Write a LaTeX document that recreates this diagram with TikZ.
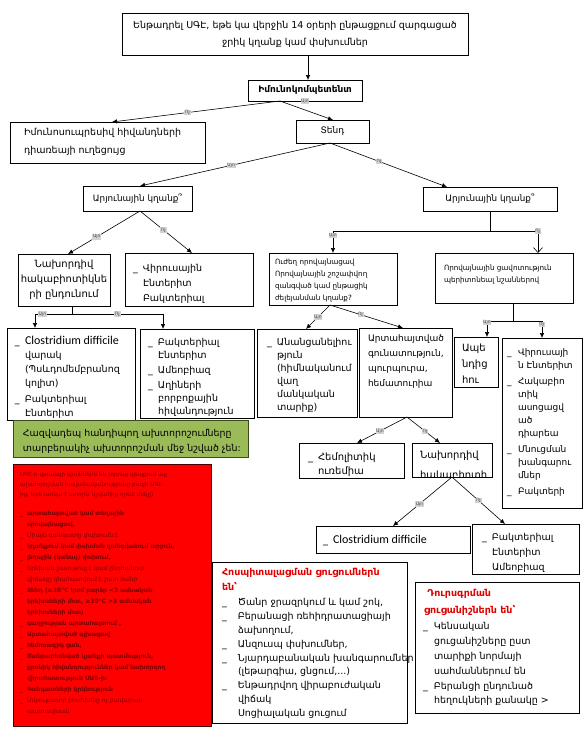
\documentclass[tikz,border=0pt]{standalone}
\usepackage{fontspec}
\setmainfont{DejaVu Sans}
\newfontfamily\lat{Carlito}
\usetikzlibrary{arrows.meta,calc}
\definecolor{gfill}{HTML}{9BBB59}
\definecolor{gline}{HTML}{3A4A1E}
\definecolor{rtext}{HTML}{7A0000}
\definecolor{hred}{HTML}{E00000}
\newcommand\fs[2]{\fontsize{#1}{#2}\selectfont}
\newcommand\Bu[1][10pt]{\makebox[#1][l]{\_}}
\newcommand\Ind[1][10pt]{\hspace*{#1}}
\tikzset{
 box/.style={draw=black, line width=0.7pt, fill=white, inner sep=2pt, outer sep=0pt, anchor=north west},
 tx/.style={inner sep=0pt, outer sep=0pt, anchor=north west, align=left},
 arr/.style={-{Latex[length=5pt,width=4.5pt]}, line width=0.6pt},
 barb/.style={-{Straight Barb[length=5pt,width=9pt]}, line width=0.6pt},
 ln/.style={line width=0.6pt},
 lb/.style={fill=gray!35, text=black!70, inner sep=0.6pt, font=\fs{4.5}{5}},
}
\begin{document}
\begin{tikzpicture}[x=1pt,y=-1pt]
\fill[white] (0,0) rectangle (586,734);
\useasboundingbox (0,0) rectangle (586,734);

% ---------- boxes ----------
\node[box,minimum width=346pt,minimum height=42pt,align=center,font=\fs{9.5}{17}] (T) at (122,13) {Ենթադրել ՍԳԷ, եթե կա վերջին 14 օրերի  ընթացքում զարգացած\\ջրիկ կղանք կամ փսխումներ};
\node[box,minimum width=114pt,minimum height=21pt,font=\bfseries\fs{9}{11}] (IC) at (248,80) {Իմունոկոմպետենտ};
\node[box,minimum width=195pt,minimum height=41pt] (IS) at (10,122) {};
\node[tx,font=\fs{9.5}{18}] (ISt) at (24,122.4) {\strut Իմունոսուպրեսիվ  հիվանդների\\դիառեայի ուղեցույց};
\node[box,minimum width=73pt,minimum height=23pt,font=\fs{9}{11}] (TD) at (296,120) {Տենդ};
\node[box,minimum width=109pt,minimum height=25pt,font=\fs{8.8}{11}] (AL) at (83,186) {Արյունային կղանք՞};
\node[box,minimum width=134pt,minimum height=24pt,font=\fs{8.8}{11}] (AR) at (423,187) {Արյունային կղանք՞};

\node[box,minimum width=92pt,minimum height=52pt,align=center,font=\fs{10}{15}] (N1) at (18,254) {Նախորդիվ\\հակաբիոտիկնե\\րի ընդունում};
\node[box,minimum width=128pt,minimum height=53pt] (V1) at (125,253) {};
\node[tx,font=\fs{9.5}{15}] (V1t) at (133,260.5) {\strut\Bu Վիրուսային\\\Ind Էնտերիտ\\\Ind Բակտերիալ};

\node[box,minimum width=128pt,minimum height=92pt] (C1) at (7,328) {};
\node[tx,font=\fs{9.5}{13.7}] (C1t) at (15,335.4) {\strut\Bu{\lat\fs{12}{13.7}Clostridium difficile}\\\Ind վարակ\\\Ind (Պսևդոմեմբրանոզ\\\Ind կոլիտ)\\[3pt]\Bu Բակտերիալ\\\Ind Էնտերիտ};
\node[box,minimum width=114pt,minimum height=89pt] (B1) at (140,329) {};
\node[tx,font=\fs{9.5}{13}] (B1t) at (148,335.9) {\strut\Bu Բակտերիալ\\\Ind Էնտերիտ\\[2pt]\Bu Ամեոբիազ\\[2pt]\Bu Աղիների\\\Ind բորբոքային\\\Ind հիվանդություն};

\node[box,fill=gfill,draw=gline,minimum width=235pt,minimum height=37pt] (G) at (13,420) {};
\node[tx,font=\fs{9.4}{15}] (Gt) at (23,425.5) {\strut Հազվադեպ հանդիպող ախտորոշումները\\տարբերակիչ ախտորոշման մեջ նշված չեն:};

\node[box,fill=red,draw={rgb,255:red,70;green,0;blue,0},minimum width=198pt,minimum height=262pt] (R) at (13,464) {};
\node[tx,text=rtext,font=\fs{5.7}{10}] (Rh) at (20,469) {\strut ՍԳԷ-ի վտանգի նշաններն են (որոնց դեպքում այլ\\ախտորոշման հավանականությունը բացի ՍԳԷ-\\ից, եթե առկա է ստորև նշվածից որևէ մեկը)};
\node[tx,text=rtext,font=\fs{6}{11}] (Rb) at (20,507.3) {\strut\Bu[7pt]\textbf{արտահայտված կամ տեղային}\\\Ind[7pt]\textbf{որովայնացավ,}\\\Bu[7pt]Միայն գանգատը փսխումն է\\\Bu[7pt]\textbf{կղանքում կամ փսխման զանգվածում արյուն,}\\\Bu[7pt]\textbf{լեղային (կանաչ) փսխում,}\\\Bu[7pt]Երեխան շատ թույլ է կամ ընդհանուր\\\Ind[7pt]վիճակը գնահատվում է շատ ծանր\\\Bu[7pt]\textbf{Տենդ (≥38°C կամ բարձր <3 ամսական}\\\Ind[7pt]\textbf{երեխաների մոտ, ≥39°C >3 ամսական}\\\Ind[7pt]\textbf{երեխաների մոտ)}\\\Bu[7pt]\textbf{գաղջության արտահայտում ,}\\\Bu[7pt]\textbf{Արտահայտված գլխացավ}\\\Bu[7pt]\textbf{հեմոռագիկ ցան,}\\\Bu[7pt]\textbf{Ծանրաբեռնված կյանքի պատմություն,}\\\Ind[7pt]\textbf{քրոնիկ  հիվանդություններ կամ նախորդող}\\\Ind[7pt]\textbf{վիրահատություն ՍԱՏ-ի:}\\\Bu[7pt]\textbf{Գանգատների կրկնություն}\\\Bu[7pt]Ամբուլատոր բուժմանը ոչ բավարար\\\Ind[7pt]պատասխան};

\node[box,minimum width=128pt,minimum height=52pt] (UZ) at (269,253) {};
\node[tx,font=\fs{7.2}{12}] (UZt) at (275,255.6) {\strut Ուժեղ որովայնացավ\\Որովայնային շոշափվող\\զանգված կամ ընթացիկ\\ժելեյանման կղանք?};
\node[box,minimum width=138pt,minimum height=50pt] (OR) at (435,253) {};
\node[tx,font=\fs{7.2}{12}] (ORt) at (444,261.6) {\strut Որովայնային ցավոտություն\\պերիտոնեալ նշաններով};

\node[box,minimum width=100pt,minimum height=88pt] (AN) at (257,329) {};
\node[tx,font=\fs{9.5}{13}] (ANt) at (267,335.9) {\strut\Bu Անանցանելիու\\\Ind թյուն\\\Ind (հիմնականում\\\Ind վաղ\\\Ind մանկական\\\Ind տարիք)};
\node[box,minimum width=93pt,minimum height=89pt] (AT) at (359,328) {};
\node[tx,font=\fs{9}{15}] (ATt) at (368,330.5) {\strut Արտահայտված\\գունատություն,\\պուրպուրա,\\հեմատուրիա};
\node[box,minimum width=44pt,minimum height=50pt] (AP) at (454,337) {};
\node[tx,font=\fs{10}{16}] (APt) at (462,339.8) {\strut Ապե\\նդից\\հու};
\node[box,minimum width=80pt,minimum height=170pt] (V2) at (502,338) {};
\node[tx,font=\fs{9}{13}] (V2t) at (507,345.9) {\strut\Bu[11pt]Վիրուսայի\\\Ind[11pt]ն Էնտերիտ\\[3pt]\Bu[11pt]Հակաբիո\\\Ind[11pt]տիկ\\\Ind[11pt]ասոցացվ\\\Ind[11pt]ած\\\Ind[11pt]դիարեա\\[3pt]\Bu[11pt]Մնուցման\\\Ind[11pt]խանգարու\\\Ind[11pt]մներ\\[3pt]\Bu[11pt]Բակտերի};

\node[box,minimum width=105pt,minimum height=35pt] (HE) at (299,443) {};
\node[tx,font=\fs{10}{14}] (HEt) at (308,450.2) {\strut\Bu Հեմոլիտիկ\\\Ind ուռեմիա};
\node[box,minimum width=80pt,minimum height=34pt] (N2) at (412,443) {};
\begin{scope}
\clip (412,443) rectangle (492,477);
\node[tx,font=\fs{10}{20}] (N2t) at (420,444) {\strut Նախորդիվ\\հակաբիոտի};
\end{scope}
\node[box,minimum width=154pt,minimum height=27pt] (C2) at (316,526) {};
\node[tx,font=\fs{10}{14}] (C2t) at (323,533.2) {\strut\Bu{\lat\fs{12}{14}Clostridium difficile}};
\node[box,minimum width=107pt,minimum height=50pt] (B2) at (472,524) {};
\node[tx,font=\fs{9.5}{15}] (B2t) at (482,529.5) {\strut\Bu Բակտերիալ\\\Ind Էնտերիտ\\\Ind Ամեոբիազ};

\node[box,minimum width=195pt,minimum height=161pt] (H) at (212,562) {};
\node[tx,text=hred,font=\bfseries\fs{9.5}{15}] (Hh) at (222,564.5) {\strut Հոսպիտալացման ցուցումներն\\են՝};
\node[tx,font=\fs{9.5}{13.8}] (Hb) at (222,596.3) {\strut\Bu[16pt]Ծանր ջրազրկում և կամ շոկ,\\\Bu[16pt]Բերանացի ռեհիդրատացիայի\\\Ind[16pt]ձախողում,\\\Bu[16pt]Անզուսպ փսխումներ,\\\Bu[16pt]Նյարդաբանական խանգարումներ\\\Ind[16pt](լեթարգիա, ցնցում,...)\\\Bu[16pt]Ենթադրվող վիրաբուժական\\\Ind[16pt]վիճակ\\\Ind[16pt]Սոցիալական ցուցում};

\node[box,minimum width=164pt,minimum height=131pt] (D) at (415,582) {};
\node[tx,text=hred,font=\bfseries\fs{9.5}{17}] (Dh) at (424,584.1) {\strut\ Դուրսգրման\\ցուցանիշներն  են՝};
\node[tx,font=\fs{9.5}{14.8}] (Db) at (423,619.6) {\strut\Bu[11pt]Կենսական\\\Ind[11pt]ցուցանիշները ըստ\\\Ind[11pt]տարիքի նորմայի\\\Ind[11pt]սահմաններում են\\\Bu[11pt]Բերանցի ընդունած\\\Ind[11pt]հեղուկների  քանակը >};

% ---------- connectors ----------
\draw[arr] ($(T.south west)+(186,0)$) -- ($(IC.north west)+(60,0)$);
\node[lb] (lA) at (305,101) {Այո};
\draw[arr] ($(IC.south west)+(32,0)$) -- node[lb,pos=0.55] (lB) {Ոչ} ($(IS.north west)+(102,0)$);
\draw[arr] ($(IC.south west)+(32,0)$) -- ($(TD.north west)+(37,0)$);
\draw[arr] ($(TD.south west)+(34,0)$) -- node[lb,pos=0.52] (lC) {Այո} ($(AL.north west)+(57,0)$);
\draw[arr] ($(TD.south west)+(34,0)$) -- node[lb,pos=0.42] (lD) {Ոչ} ($(AR.north west)+(24,0)$);
\draw[arr] ($(AL.south west)+(57,0)$) -- node[lb,pos=0.6] (lE) {Այո} ($(N1.north west)+(50,0)$);
\draw[arr] ($(AL.south west)+(57,0)$) -- node[lb,pos=0.45] (lF) {Ոչ} ($(V1.north west)+(67,0)$);

\coordinate (j1) at (72,314);
\draw[ln] ($(N1.south west)+(54,0)$) -- (j1);
\draw[arr] (j1) -| node[lb,pos=0.4] (lG) {Այո} ($(C1.north west)+(28,0)$);
\draw[arr] (j1) -| node[lb,pos=0.25] (lH) {Ոչ} ($(B1.north west)+(23,0)$);

\coordinate (j2) at (490,231);
\draw[ln] ($(AR.south west)+(67,0)$) -- (j2);
\draw[arr] (j2) -| node[lb,pos=0.6] (lI) {Այո} ($(UZ.north west)+(64,0)$);
\draw[barb] (j2) -| node[lb,pos=0.5] (lJ) {Ոչ} ($(OR.north west)+(103,0)$);

\draw[arr] ($(UZ.south west)+(61,0)$) -- node[lb,pos=0.5] (lK) {Այո} ($(AN.north west)+(49,0)$);
\draw[arr] ($(UZ.south west)+(61,0)$) -- node[lb,pos=0.42] (lL) {Ոչ} ($(AT.north west)+(44,0)$);

\coordinate (j3) at (513,321);
\draw[ln] ($(OR.south west)+(78,0)$) -- (j3);
\draw[arr] (j3) -| node[lb,pos=0.55] (lM) {Այո} ($(AP.north west)+(33,0)$);
\draw[arr] (j3) -| node[lb,pos=0.6] (lN) {Ոչ} ($(V2.north west)+(40,0)$);

\draw[arr] ($(AT.south west)+(48,0)$) -- node[lb,pos=0.54] (lO) {Այո} ($(HE.north west)+(58,0)$);
\draw[arr] ($(AT.south west)+(48,0)$) -- node[lb,pos=0.55] (lP) {Ոչ} ($(N2.north west)+(28,0)$);
\draw[arr] ($(N2.south west)+(40,0)$) -- node[lb,pos=0.55] (lQ) {Այո} ($(C2.north west)+(77,0)$);
\draw[arr] ($(N2.south west)+(40,0)$) -- node[lb,pos=0.5] (lR) {Ոչ} ($(B2.north west)+(33,0)$);
\end{tikzpicture}
\end{document}
